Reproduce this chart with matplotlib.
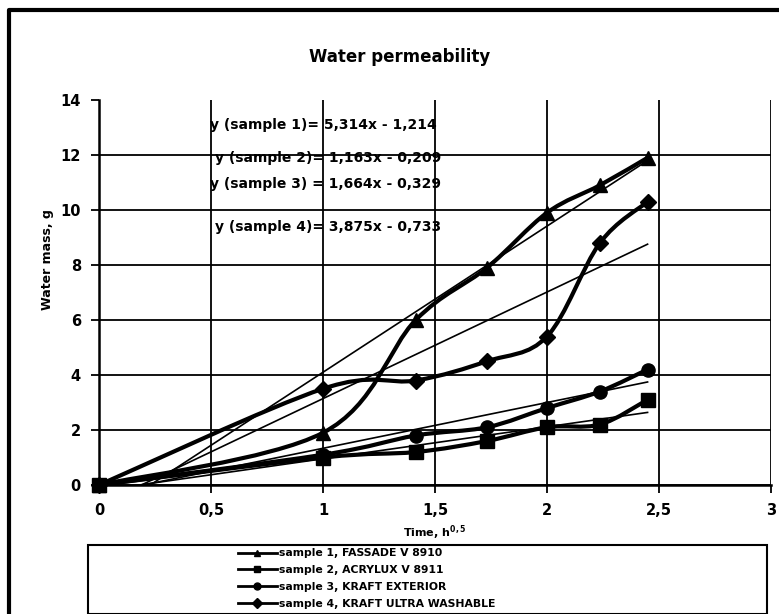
import matplotlib
matplotlib.use("Agg")
import matplotlib.pyplot as plt
import numpy as np
from matplotlib.path import Path
from matplotlib.patches import PathPatch, Rectangle
from matplotlib.lines import Line2D

plt.rcParams['font.family'] = ['DejaVu Sans']
plt.rcParams['font.weight'] = 'bold'

# ---- data ----
time_sqrt = [0, 1, 1.414, 1.732, 2, 2.236, 2.449]
sample1 = [0, 1.9, 6.0, 7.9, 9.9, 10.9, 11.9]
sample2 = [0, 1.0, 1.2, 1.6, 2.1, 2.2, 3.1]
sample3 = [0, 1.1, 1.8, 2.1, 2.8, 3.4, 4.2]
sample4 = [0, 3.5, 3.8, 4.5, 5.4, 8.8, 10.3]
series_labels = ["sample 1, FASSADE V 8910", "sample 2, ACRYLUX V 8911",
                 "sample 3, KRAFT EXTERIOR", "sample 4, KRAFT ULTRA WASHABLE"]
slopes = [5.314, 1.163, 1.664, 3.875]
intercepts = [-1.214, -0.209, -0.329, -0.733]
eq_texts = ["y (sample 1)= 5,314x - 1,214", "y (sample 2)= 1,163x - 0,209",
            "y (sample 3) = 1,664x - 0,329", "y (sample 4)= 3,875x - 0,733"]
x_ticks = [0, 0.5, 1, 1.5, 2, 2.5, 3]
x_ticklabels = ["0", "0,5", "1", "1,5", "2", "2,5", "3"]
y_ticks = [0, 2, 4, 6, 8, 10, 12, 14]

W, H = 779, 614
fig = plt.figure(figsize=(W/100, H/100), dpi=100)
ax = fig.add_axes([99/W, 1-485/H, (771-99)/W, (485-100)/H])

def smooth_path(xs, ys, t=0.5):
    xs = np.asarray(xs, float); ys = np.asarray(ys, float)
    pts = np.column_stack([xs, ys])
    n = len(pts)
    verts = [pts[0]]; codes = [Path.MOVETO]
    for i in range(n-1):
        p0 = pts[i-1] if i > 0 else pts[i]
        p1 = pts[i]; p2 = pts[i+1]
        p3 = pts[i+2] if i+2 < n else pts[i+1]
        c1 = p1 + (p2 - p0) * t / 3
        c2 = p2 - (p3 - p1) * t / 3
        verts += [c1, c2, p2]; codes += [Path.CURVE4]*3
    return Path(verts, codes)

markers = ['^', 's', 'o', 'D']
msizes = [10, 9.5, 9.5, 8]
series = [sample1, sample2, sample3, sample4]
handles = []
for ys, m, ms, lab in zip(series, markers, msizes, series_labels):
    ax.add_patch(PathPatch(smooth_path(time_sqrt, ys), fill=False, lw=3,
                           edgecolor='black', zorder=4, clip_on=False))
    ax.plot(time_sqrt, ys, linestyle='none', marker=m, ms=ms, color='black',
            zorder=5, clip_on=False)
    handles.append(Line2D([], [], color='black', lw=2, marker=m, ms=5))

xt = np.array([0, time_sqrt[-1]])
for a, b in zip(slopes, intercepts):
    ax.plot(xt, a*xt + b, color='black', lw=1.2, zorder=3)

ax.set_xlim(0, 3)
ax.set_ylim(0, 14)
ax.set_xticks(x_ticks)
ax.set_xticklabels(x_ticklabels)
ax.set_yticks(y_ticks)
ax.grid(True, color='black', lw=1.3)
ax.get_ygridlines()[-1].set_visible(False)
ax.set_axisbelow(True)
for s in ['top', 'right']:
    ax.spines[s].set_visible(False)
ax.spines['left'].set_linewidth(1.8)
ax.spines['bottom'].set_linewidth(1.8)
ax.tick_params(direction='out', length=6, width=1.3, labelsize=10.5, pad=7)
for lab in ax.get_xticklabels() + ax.get_yticklabels():
    lab.set_fontweight('bold')

ex = [0.495, 0.518, 0.495, 0.518]
ey = [13.1, 11.9, 10.95, 9.4]
for x, y, t in zip(ex, ey, eq_texts):
    ax.text(x, y, t, fontsize=10, fontweight='bold', va='center', ha='left', zorder=6)

ax.set_xlabel("Time, h$^{0,5}$", fontsize=8, fontweight='bold', labelpad=4)
fig.text(47/W, 1-260/H, "Water mass, g", rotation=90, fontsize=9,
         fontweight='bold', ha='center', va='center')
fig.text(400/W, 1-57/H, "Water permeability", fontsize=12, fontweight='bold',
         ha='center', va='center')

# legend frame and legend
fig.add_artist(Rectangle((88/W, 1-614/H), (767-88)/W, (614-545)/H,
                         transform=fig.transFigure, fill=False, lw=1.5,
                         edgecolor='black'))
leg = fig.legend(handles, series_labels, loc='center left',
                 bbox_to_anchor=(238/W, 1-578.5/H),
                 frameon=False, prop={'size': 7.8, 'weight': 'bold'}, handlelength=3.6,
                 labelspacing=0.62, handletextpad=0.15, borderpad=0, borderaxespad=0)

# outer frame
fig.add_artist(Line2D([9/W, 9/W, 1.0], [0, 1-10/H, 1-10/H],
                      transform=fig.transFigure, color='black', lw=3))

fig.savefig("out.png", dpi=100)
